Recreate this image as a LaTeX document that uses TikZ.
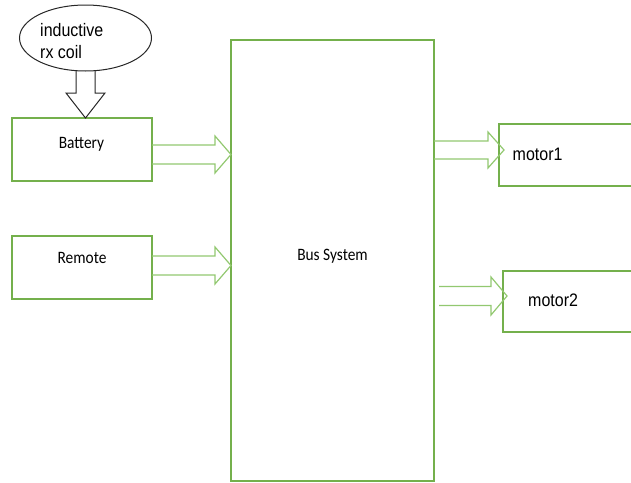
\documentclass[tikz,border=0pt]{standalone}
\usepackage{fontspec}
\setmainfont{Carlito}
\newfontfamily\arialf{Liberation Sans}
\usetikzlibrary{calc,shapes.geometric}

\definecolor{boxgreen}{RGB}{116,176,76}
\definecolor{arrowgreen}{RGB}{146,200,112}

% text is set slightly taller than wide
\newcommand\vst[1]{\scalebox{1}[1.13]{#1}}

% hollow block arrow pointing right: style, tail, tip, half shaft, half head
\newcommand\fatarrowright[5]{%
  \draw[#1] let \p1=(#2), \p2=(#3) in
    (\x1,\y1+#4) -- (\x2-16pt,\y1+#4) -- (\x2-16pt,\y1+#5) -- (\x2,\y1)
    -- (\x2-16pt,\y1-#5) -- (\x2-16pt,\y1-#4) -- (\x1,\y1-#4);}

% hollow block arrow pointing down: style, tail, tip, half shaft, half head
\newcommand\fatarrowdown[5]{%
  \draw[#1] let \p1=(#2), \p2=(#3) in
    (\x1-#4,\y1) -- (\x1-#4,\y2+25pt) -- (\x1-#5,\y2+25pt) -- (\x1,\y2)
    -- (\x1+#5,\y2+25pt) -- (\x1+#4,\y2+25pt) -- (\x1+#4,\y1);}

\begin{document}
\begin{tikzpicture}[x=1pt,y=-1pt,
  block/.style={rectangle,draw=boxgreen,line width=1.3pt,inner sep=0pt,outer sep=0pt},
  openblock/.style={rectangle,inner sep=0pt,outer sep=0pt},
  calib/.style={inner sep=0pt,font=\fontsize{15.4}{18}\selectfont},
  arial/.style={inner sep=0pt,font=\arialf\fontsize{16}{19.5}\selectfont},
  greenarrow/.style={draw=arrowgreen,line width=1.2pt,line join=miter},
  blackarrow/.style={draw=black!85,line width=1pt,line join=miter}]
\useasboundingbox (0,0) rectangle (631,482);

% boxes
\node[block,minimum width=140pt,minimum height=63pt] (bat) at (82,149.5) {};
\node[block,minimum width=140pt,minimum height=63pt] (rem) at (82,267.5) {};
\node[block,minimum width=203pt,minimum height=441pt] (bus) at (332.5,260.5) {};
\node[openblock,minimum width=132pt,minimum height=62pt] (m1) at (565,155) {};
\node[openblock,minimum width=128pt,minimum height=61pt] (m2) at (567,301.5) {};
\draw[boxgreen,line width=1.3pt] (m1.north east) -- (m1.north west) -- (m1.south west) -- (m1.south east);
\draw[boxgreen,line width=1.3pt] (m2.north east) -- (m2.north west) -- (m2.south west) -- (m2.south east);

% box labels
\node[calib,anchor=base] (batlabel) at (81.5,148) {\vst{Battery}};
\node[calib,anchor=base] (remlabel) at (82,263) {\vst{Remote}};
\node[calib,anchor=base] (buslabel) at (332.5,260) {\vst{Bus System}};
\node[arial,anchor=base west] (m1label) at (512.5,160.7) {\vst{motor1}};
\node[arial,anchor=base west] (m2label) at (528,306.5) {\vst{motor2}};

% receiver coil
\node[ellipse,draw=black!85,line width=1pt,fill=white,minimum width=132pt,minimum height=66pt,inner sep=0pt,outer sep=0pt] (coil) at (85.5,38) {};
\node[arial,anchor=base west] (coillabel) at (40,36)
  {\vst{\begin{tabular}[t]{@{}l@{}}inductive\\rx coil\end{tabular}}};

% power from coil into battery
\fatarrowdown{blackarrow}{coil.south}{coil.south |- bat.north}{9.5pt}{19.5pt}

% inputs into the bus
\fatarrowright{greenarrow}{$(bat.east)+(0,5)$}{$(bus.west |- bat.east)+(0,5)$}{9.5pt}{18.5pt}
\fatarrowright{greenarrow}{$(rem.east)+(0,-2)$}{$(bus.west |- rem.east)+(0,-2)$}{9.5pt}{18.5pt}

% outputs to the motors
\fatarrowright{greenarrow}{$(bus.east |- m1.west)+(0,-5)$}{$(m1.west)+(5,-5)$}{9pt}{18pt}
\fatarrowright{greenarrow}{$(bus.east |- m2.west)+(5,-5.5)$}{$(m2.west)+(4,-5.5)$}{9.5pt}{19pt}
\end{tikzpicture}
\end{document}
